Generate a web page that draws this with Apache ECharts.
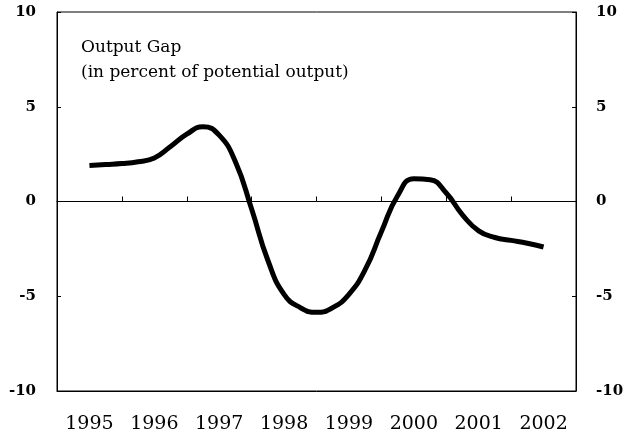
<!DOCTYPE html>
<html>
<head>
<meta charset="utf-8">
<script src="https://cdn.jsdelivr.net/npm/echarts@6/dist/echarts.min.js"></script>
<style>
  html, body { margin: 0; padding: 0; background: #fff; }
  #main { width: 630px; height: 438px; }
</style>
</head>
<body>
<div id="main"></div>
<script>
// year labels, quarterly periods and the output gap (percent of potential)
var years = ["1995", "1996", "1997", "1998", "1999", "2000", "2001", "2002"];
var periods = [
  1995.0, 1995.25, 1995.5, 1995.75,
  1996.0, 1996.25, 1996.5, 1996.75,
  1997.0, 1997.25, 1997.5, 1997.75,
  1998.0, 1998.25, 1998.5, 1998.75,
  1999.0, 1999.25, 1999.5, 1999.75,
  2000.0, 2000.25, 2000.5, 2000.75,
  2001.0, 2001.25, 2001.5, 2001.75,
  2002.0
];
var outputGap = [
  1.9, 1.95, 2.0, 2.1,
  2.3, 2.9, 3.55, 3.95,
  3.5, 2.1, -0.4, -3.1,
  -4.9, -5.6, -5.85, -5.6,
  -4.9, -3.6, -1.6, 0.3,
  1.2, 1.15, 0.45, -0.7,
  -1.55, -1.9, -2.05, -2.2,
  -2.4
];
var yTicks = [-10, -5, 0, 5, 10];

var font = "DejaVu Serif";
var chart = echarts.init(document.getElementById("main"));

var option = {
  animation: false,
  title: {
    text: "Output Gap\n(in percent of potential output)",
    left: 76,
    top: 30,
    textStyle: {
      fontFamily: font,
      fontSize: 17,
      fontWeight: "normal",
      color: "#000",
      lineHeight: 25
    }
  },
  grid: {
    left: 57,
    right: 54,
    top: 12,
    bottom: 47,
    show: true,
    borderColor: "#000",
    borderWidth: 1
  },
  xAxis: [
    {
      // numeric axis for the curve; draws the zero line with its ticks
      type: "value",
      position: "top",
      min: 1994.5,
      max: 2002.5,
      interval: 1,
      axisLine: { onZero: true, lineStyle: { color: "#000", width: 1 } },
      axisTick: { show: true, inside: false, length: 5, lineStyle: { color: "#000" } },
      axisLabel: { show: false },
      splitLine: { show: false }
    },
    {
      type: "category",
      position: "bottom",
      data: years,
      boundaryGap: true,
      axisLine: { show: true, onZero: false, lineStyle: { color: "#000" } },
      axisTick: { show: false },
      axisLabel: {
        fontFamily: font,
        fontSize: 19,
        color: "#000",
        margin: 24
      }
    }
  ],
  yAxis: [
    {
      type: "value",
      position: "left",
      min: -10,
      max: 10,
      interval: 5,
      axisLine: { show: true, lineStyle: { color: "#000" } },
      axisTick: { show: true, inside: true, length: 4, lineStyle: { color: "#000" } },
      axisLabel: {
        fontFamily: font,
        fontSize: 15,
        fontWeight: "bold",
        color: "#000",
        margin: 21,
        customValues: yTicks
      },
      splitLine: { show: false }
    },
    {
      type: "value",
      position: "right",
      min: -10,
      max: 10,
      interval: 5,
      axisLine: { show: true, lineStyle: { color: "#000" } },
      axisTick: { show: true, inside: true, length: 4, lineStyle: { color: "#000" } },
      axisLabel: {
        fontFamily: font,
        fontSize: 15,
        fontWeight: "bold",
        color: "#000",
        margin: 20
      },
      splitLine: { show: false }
    }
  ],
  series: [
    {
      type: "line",
      xAxisIndex: 0,
      yAxisIndex: 0,
      data: periods.map(function (p, i) { return [p, outputGap[i]]; }),
      smooth: 0.5,
      showSymbol: false,
      lineStyle: { color: "#000", width: 5 }
    }
  ]
};

chart.setOption(option);
</script>
</body>
</html>
